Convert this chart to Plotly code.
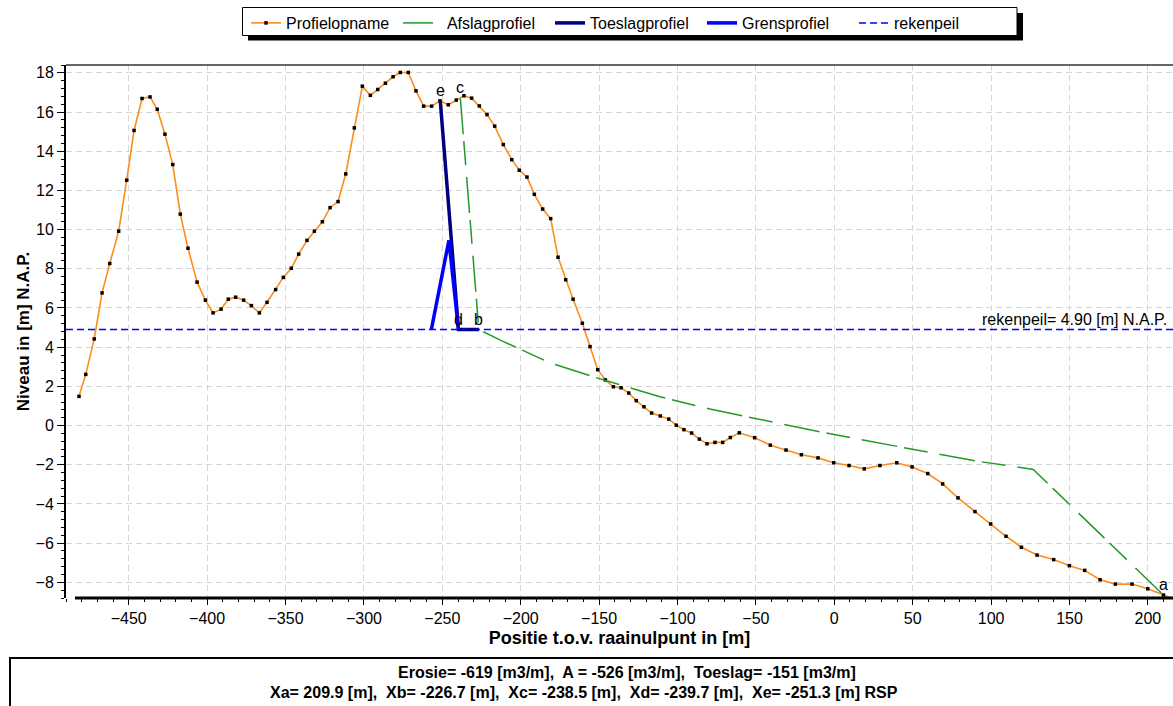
import plotly.graph_objects as go

# Profielopname: measured profile (x = positie t.o.v. raainulpunt [m], z = niveau [m] N.A.P.)
prof_x = [-481.7, -477.4, -472.0, -467.0, -462.1, -456.4, -451.3, -446.6, -441.5, -436.4,
          -431.8, -426.9, -421.9, -417.1, -412.2, -406.4, -401.1, -396.2, -391.1, -386.5,
          -381.8, -376.7, -371.8, -366.7, -361.8, -356.3, -351.4, -346.3, -341.6, -336.3,
          -331.6, -326.5, -321.6, -316.5, -311.6, -306.1, -301.0, -295.9, -291.2, -286.3,
          -281.4, -276.8, -271.7, -266.8, -261.9, -256.8, -251.5, -246.2, -241.1, -236.2,
          -231.3, -226.4, -221.5, -216.6, -211.1, -205.7, -200.9, -196.0, -191.3, -186.0,
          -180.9, -176.2, -171.3, -166.6, -160.7, -155.8, -150.9, -146.0, -140.9, -136.0,
          -131.1, -126.3, -121.4, -116.5, -111.0, -105.6, -100.8, -95.9, -91.0, -86.1,
          -81.2, -76.1, -71.2, -66.3, -60.6, -50.8, -40.8, -30.8, -21.0, -10.4,
          -0.4, 9.4, 19.1, 29.1, 39.8, 49.6, 59.6, 69.1, 78.9, 89.7,
          99.7, 109.5, 119.3, 129.3, 139.9, 149.9, 159.7, 169.5, 179.2, 189.9,
          199.9, 209.9, 219.8]
prof_z = [1.49, 2.61, 4.42, 6.77, 8.27, 9.92, 12.52, 15.06, 16.69, 16.77,
          16.14, 14.87, 13.32, 10.79, 9.05, 7.32, 6.40, 5.75, 5.94, 6.45,
          6.55, 6.40, 6.12, 5.75, 6.29, 6.94, 7.56, 8.03, 8.75, 9.45,
          9.92, 10.40, 11.12, 11.43, 12.84, 15.19, 17.32, 16.85, 17.15, 17.47,
          17.80, 18.02, 18.02, 17.08, 16.30, 16.30, 16.57, 16.37, 16.61, 16.83,
          16.71, 16.31, 15.87, 15.28, 14.34, 13.57, 13.03, 12.68, 11.80, 11.05,
          10.56, 8.59, 7.44, 6.45, 5.22, 4.03, 2.85, 2.33, 1.98, 1.93,
          1.66, 1.27, 0.96, 0.64, 0.49, 0.33, 0.02, -0.21, -0.38, -0.69,
          -0.93, -0.86, -0.86, -0.61, -0.37, -0.62, -1.00, -1.25, -1.49, -1.65,
          -1.90, -2.04, -2.21, -2.04, -1.90, -2.11, -2.45, -2.98, -3.69, -4.39,
          -5.02, -5.65, -6.21, -6.61, -6.84, -7.15, -7.39, -7.87, -8.09, -8.09,
          -8.33, -8.65, -8.95]

# Afslagprofiel: c -> b, then the erosion profile down to a
afslag_x = [-238.5, -226.7, -213.3, -181.4, -153.7, -111.2, -79.3, -51.7, -9.1, 41.9, 92.9, 126.9, 209.9]
afslag_z = [16.70, 4.90, 4.37, 3.20, 2.49, 1.47, 0.84, 0.38, -0.32, -1.09, -1.84, -2.24, -8.65]

# Toeslagprofiel: e -> d -> b
toeslag_x = [-251.3, -239.7, -226.7]
toeslag_z = [16.57, 4.90, 4.90]

# Grensprofiel
grens_x = [-257.0, -245.8, -239.7]
grens_z = [4.90, 9.45, 4.90]

# rekenpeil over the full profile extent
rekenpeil = 4.90
x_range = [-490.0, 216.0]
y_range = [-8.8, 18.4]

# Named points a..e
pt_names = ["a", "b", "c", "d", "e"]
pt_x = [209.9, -226.7, -238.5, -239.7, -251.3]
pt_z = [-8.65, 4.90, 16.70, 4.90, 16.57]

summary_1 = "Erosie= -619 [m3/m],  A = -526 [m3/m],  Toeslag= -151 [m3/m]"
summary_2 = "Xa= 209.9 [m],  Xb= -226.7 [m],  Xc= -238.5 [m],  Xd= -239.7 [m],  Xe= -251.3 [m] RSP"

W, H = 1173, 706
ML, MR, MT, MB = 66, 0, 65, 108
PW, PH = W - ML - MR, H - MT - MB


def px(x):
    return (x - ML) / PW


def py(y):
    return (H - MB - y) / PH


FONT = "Liberation Sans, Arial, sans-serif"

fig = go.Figure()

fig.add_trace(go.Scatter(
    x=prof_x, y=prof_z, mode="lines+markers", name="Profielopname",
    line=dict(color="#ff8c1a", width=1.6),
    marker=dict(symbol="square", size=3.5, color="black"),
))
fig.add_trace(go.Scatter(
    x=afslag_x, y=afslag_z, mode="lines", name="\u00a0\u00a0Afslagprofiel",
    line=dict(color="#22992a", width=1.5, dash="36px,7px,24px,12px"),
))
fig.add_trace(go.Scatter(
    x=toeslag_x, y=toeslag_z, mode="lines", name="Toeslagprofiel",
    line=dict(color="#000080", width=3.5),
))
fig.add_trace(go.Scatter(
    x=grens_x, y=grens_z, mode="lines", name="Grensprofiel",
    line=dict(color="#0000ff", width=3.5),
))
fig.add_trace(go.Scatter(
    x=x_range, y=[rekenpeil, rekenpeil], mode="lines", name="rekenpeil",
    line=dict(color="#0000ff", width=1.5, dash="7px,4px"),
))

annotations = []
for n, xv, zv in zip(pt_names, pt_x, pt_z):
    annotations.append(dict(
        x=xv, y=zv, xref="x", yref="y", text=n, showarrow=False,
        xanchor="center", yanchor="bottom", font=dict(family=FONT, size=16, color="black"),
    ))
annotations.append(dict(
    x=1, y=rekenpeil, xref="paper", yref="y", xanchor="right", yanchor="bottom",
    xshift=-4, text=f"rekenpeil= {rekenpeil:.2f} [m] N.A.P.", showarrow=False,
    font=dict(family=FONT, size=16, color="black"),
))
annotations.append(dict(
    x=px(627), y=py(672), xref="paper", yref="paper", text=f"<b>{summary_1}</b>",
    showarrow=False, xanchor="center", yanchor="middle",
    font=dict(family=FONT, size=16, color="black"),
))
annotations.append(dict(
    x=px(584), y=py(692), xref="paper", yref="paper", text=f"<b>{summary_2}</b>",
    showarrow=False, xanchor="center", yanchor="middle",
    font=dict(family=FONT, size=16, color="black"),
))

shapes = [
    # top frame line
    dict(type="line", xref="paper", yref="paper", x0=0, x1=1, y0=1, y1=1,
         line=dict(color="#333333", width=1.5), layer="above"),
    # bottom axis line
    dict(type="line", xref="paper", yref="paper", x0=px(75), x1=1, y0=0, y1=0,
         line=dict(color="black", width=3), layer="above"),
    # legend shadow and frame
    dict(type="rect", xref="paper", yref="paper", x0=px(248), x1=px(1023), y0=py(40.5), y1=py(13),
         line=dict(width=0), fillcolor="black", layer="above"),
    dict(type="rect", xref="paper", yref="paper", x0=px(242.5), x1=px(1017), y0=py(35.5), y1=py(7.5),
         line=dict(color="black", width=1), fillcolor="white", layer="above"),
    # summary box
    dict(type="rect", xref="paper", yref="paper", x0=px(10), x1=px(1185), y0=py(715), y1=py(658),
         line=dict(color="black", width=2), fillcolor="white", layer="above"),
]

grid_color = "#d6d6d6"
fig.update_layout(
    width=W, height=H,
    margin=dict(l=ML, r=MR, t=MT, b=MB, pad=0),
    paper_bgcolor="white", plot_bgcolor="white",
    font=dict(family=FONT, size=16, color="black"),
    showlegend=True,
    legend=dict(
        orientation="h", x=px(246), y=py(6), xanchor="left", yanchor="top",
        bgcolor="rgba(0,0,0,0)", borderwidth=0,
        font=dict(family=FONT, size=16, color="black"),
        entrywidth=107, entrywidthmode="pixels", itemwidth=30,
    ),
    xaxis=dict(
        range=x_range, dtick=50, tick0=0, showline=False, zeroline=False,
        ticks="outside", ticklen=6, tickwidth=1, tickcolor="black",
        showgrid=True, gridcolor=grid_color, griddash="6px,4px", gridwidth=1,
        minor=dict(dtick=10, ticks="outside", ticklen=3, tickcolor="black", showgrid=False),
        tickfont=dict(family=FONT, size=16),
        title=dict(text="<b>Positie t.o.v. raainulpunt in [m]</b>", font=dict(family=FONT, size=18), standoff=5),
    ),
    yaxis=dict(
        range=y_range, dtick=2, tick0=0, showline=True, linecolor="black", linewidth=2,
        zeroline=False, ticks="outside", ticklen=7, tickwidth=1, tickcolor="black",
        showgrid=True, gridcolor=grid_color, griddash="6px,4px", gridwidth=1,
        minor=dict(dtick=0.4, ticks="outside", ticklen=3, tickcolor="black", showgrid=False),
        tickfont=dict(family=FONT, size=16),
        title=dict(text="<b>Niveau in [m] N.A.P.</b>", font=dict(family=FONT, size=17), standoff=2),
    ),
    annotations=annotations,
    shapes=shapes,
)

fig.write_html("out.html")
